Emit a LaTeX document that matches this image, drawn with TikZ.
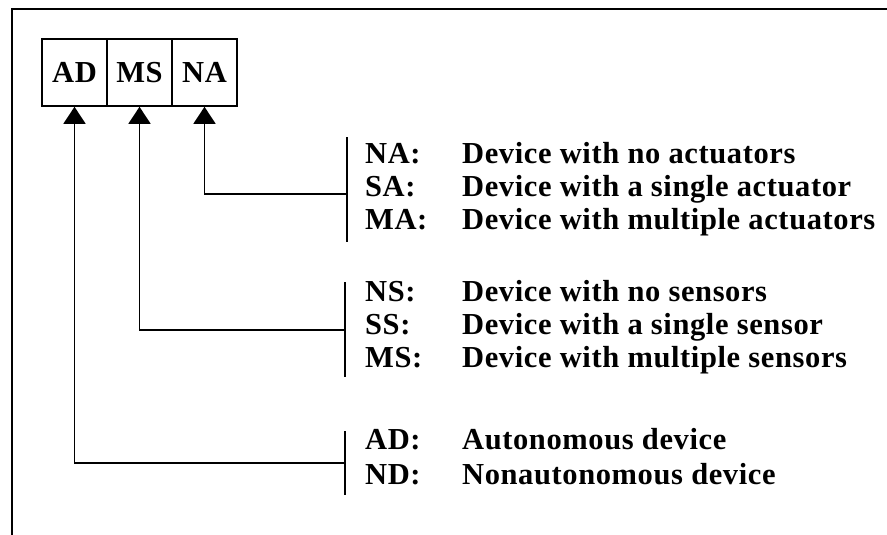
\documentclass[tikz,border=0pt]{standalone}
\usepackage{fontspec}
\setmainfont{Liberation Serif}[LetterSpace=2]
\usetikzlibrary{arrows.meta}
\tikzset{
  frame/.style={line width=2.5pt},
  cell/.style={draw, line width=1.6pt, minimum width=65pt, minimum height=67pt, inner sep=0pt, font=\fontsize{30.5}{34}\selectfont\bfseries},
  conn/.style={line width=1.6pt, -{Triangle[width=22pt,length=17pt]}},
  barline/.style={line width=1.6pt},
  key/.style={anchor=base west, inner sep=0pt, font=\fontsize{30.5}{34}\selectfont\bfseries},
}
\begin{document}
\begin{tikzpicture}[x=1pt,y=-1pt]
\useasboundingbox (0,0) rectangle (887,535);
\begin{scope}
\clip (0,0) rectangle (887,535);
\draw[frame] (12,9) rectangle (900,550);
\end{scope}
% boxes
\node[cell] (AD) at (74.5,72.5) {AD};
\node[cell] (MS) at (139.5,72.5) {MS};
\node[cell] (NA) at (204.5,72.5) {NA};
% bars
\coordinate (naT) at (347,137);
\coordinate (naB) at (347,242);
\coordinate (naM) at (347,194);
\coordinate (msT) at (345,282);
\coordinate (msB) at (345,377);
\coordinate (msM) at (345,330);
\coordinate (adT) at (345,431);
\coordinate (adB) at (345,495);
\coordinate (adM) at (345,463);
\draw[barline] (naT) -- (naB);
\draw[barline] (msT) -- (msB);
\draw[barline] (adT) -- (adB);
\draw[conn] (naM) -| (NA.south);
\draw[conn] (msM) -| (MS.south);
\draw[conn] (adM) -| (AD.south);
% texts
\node[key] (k1) at (365,163) {NA:};
\node[key] (d1) at (462,163) {Device with no actuators};
\node[key] (k2) at (365,196) {SA:};
\node[key] (d2) at (462,196) {Device with a single actuator};
\node[key] (k3) at (365,229) {MA:};
\node[key] (d3) at (462,229) {Device with multiple actuators};
\node[key] (k4) at (365,301) {NS:};
\node[key] (d4) at (462,301) {Device with no sensors};
\node[key] (k5) at (365,334) {SS:};
\node[key] (d5) at (462,334) {Device with a single sensor};
\node[key] (k6) at (365,367) {MS:};
\node[key] (d6) at (462,367) {Device with multiple sensors};
\node[key] (k7) at (365,449) {AD:};
\node[key] (d7) at (462,449) {Autonomous device};
\node[key] (k8) at (365,484) {ND:};
\node[key] (d8) at (462,484) {Nonautonomous device};
\end{tikzpicture}
\end{document}
